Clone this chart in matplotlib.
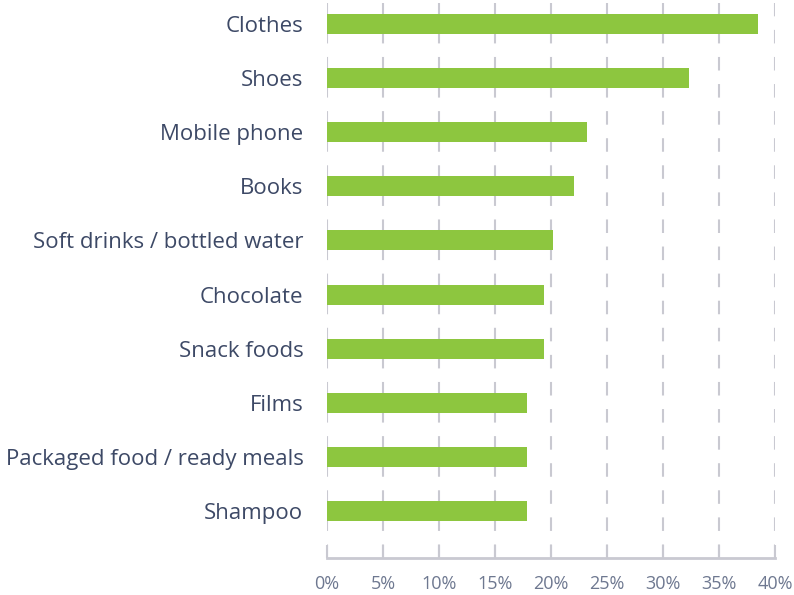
import matplotlib
matplotlib.use('Agg')
import matplotlib.pyplot as plt
from matplotlib.ticker import FuncFormatter

plt.rcParams['font.family'] = ['Open Sans', 'DejaVu Sans']

# data (share, %)
categories = ['Clothes', 'Shoes', 'Mobile phone', 'Books', 'Soft drinks / bottled water',
              'Chocolate', 'Snack foods', 'Films', 'Packaged food / ready meals', 'Shampoo']
values = [38.45, 32.3, 23.2, 22.05, 20.2, 19.35, 19.35, 17.9, 17.9, 17.9]
x_ticks = [0, 5, 10, 15, 20, 25, 30, 35, 40]

bar_color = '#8dc63f'
grid_color = '#c9c9d1'
label_color = '#3d4966'
tick_color = '#6e7890'

fig = plt.figure(figsize=(7.94, 5.95), dpi=100)
ax = fig.add_axes([327 / 794, (595 - 558) / 595, (775 - 327) / 794, (558 - 3) / 595])

pos = list(range(len(categories)))
ax.barh(pos, values, height=0.37, color=bar_color, zorder=3)

ax.set_xlim(0, 40)
ax.set_ylim(9.87, -0.39)
ax.set_xticks(x_ticks)
ax.xaxis.set_major_formatter(FuncFormatter(lambda v, p: '%d%%' % v))
ax.set_yticks(pos)
ax.set_yticklabels(categories)

# dashed vertical grid
ax.grid(axis='x', color=grid_color, linewidth=1.5, linestyle=(0, (6.5, 6.5)), zorder=0)
ax.grid(axis='y', visible=False)

for s in ['top', 'right', 'left']:
    ax.spines[s].set_visible(False)
ax.spines['bottom'].set_color(grid_color)
ax.spines['bottom'].set_linewidth(2)

ax.tick_params(axis='x', direction='in', length=9.5, width=1.5, color=grid_color,
               labelcolor=tick_color, labelsize=13, pad=12)
ax.tick_params(axis='y', length=0, pad=17, labelcolor=label_color, labelsize=16)

fig.savefig('out.png', dpi=100)
